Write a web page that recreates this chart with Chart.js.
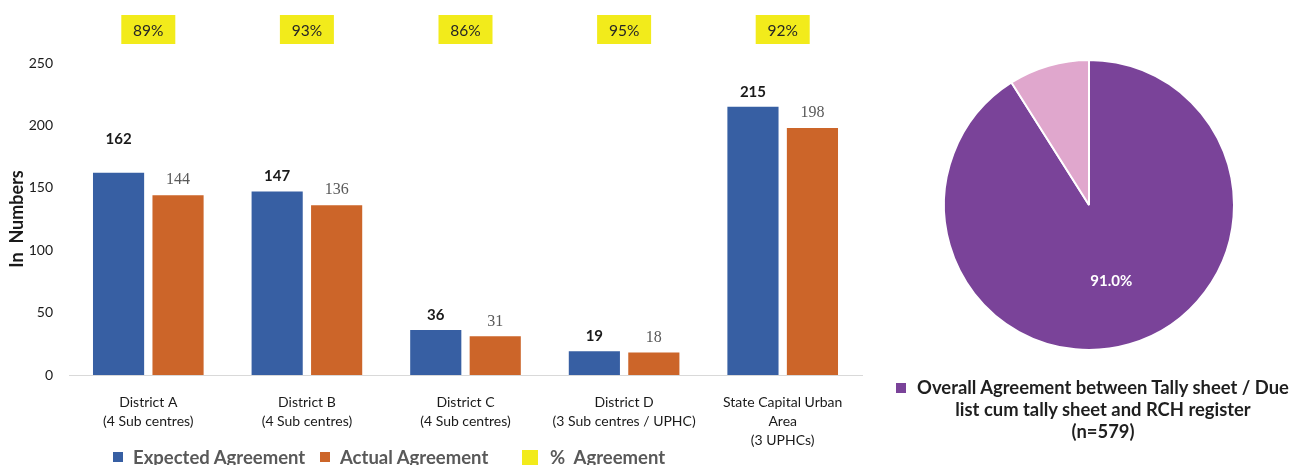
<!DOCTYPE html>
<html>
<head>
<meta charset="utf-8">
<script src="https://cdn.jsdelivr.net/npm/chart.js@4.4.0/dist/chart.umd.min.js"></script>
<style>
  html,body{margin:0;padding:0;background:#fff;overflow:hidden;}
  body{width:1289px;height:465px;position:relative;font-family:Lato,"Noto Sans",sans-serif;}
  #bar{position:absolute;left:0;top:0;}
  #pie{position:absolute;left:870px;top:0;}
  .leg{position:absolute;top:446px;font-weight:bold;font-size:18.5px;line-height:22px;color:#595959;white-space:pre;}
  .leg i{position:absolute;left:0;top:6px;width:10px;height:10px;}
  .leg span{padding-left:20px;}
  .leg.wide i{width:16px;height:16px;top:4px;}
  .leg.wide span{padding-left:28px;}
  #pieLegend{position:absolute;left:817px;top:376px;width:572px;text-align:center;font-weight:bold;font-size:18.4px;line-height:22px;color:#1f1f1f;white-space:nowrap;}
  #pieLegend i{position:absolute;left:79px;top:7px;width:10px;height:10px;}
</style>
</head>
<body>
<canvas id="bar" width="870" height="465"></canvas>
<canvas id="pie" width="419" height="465"></canvas>
<div id="barLegend"></div>
<div id="pieLegend"></div>
<script>
/* bar chart data */
const categories = [
  ['District A', '(4 Sub centres)'],
  ['District B', '(4 Sub centres)'],
  ['District C', '(4 Sub centres)'],
  ['District D', '(3 Sub centres / UPHC)'],
  ['State Capital Urban', 'Area', '(3 UPHCs)']
];
const expectedAgreement = [162, 147, 36, 19, 215];
const actualAgreement = [144, 136, 31, 18, 198];
const agreementPct = [89, 93, 86, 95, 92];
const yMax = 250;
const yStep = 50;

/* pie data: records in agreement vs not */
const pieLegendLines = ['Overall Agreement between Tally sheet / Due', 'list cum tally sheet and RCH register', '(n=579)'];
const pieValues = [527, 52];

const BLUE = '#375fa3', ORANGE = '#cc6529', YELLOW = '#f2eb1b';
const PURPLE = '#7a4399', PINK = '#e0a7cd';

Chart.defaults.font.family = 'Lato';

const barLabels = {
  id: 'barLabels',
  afterDatasetsDraw(chart) {
    const ctx = chart.ctx;
    ctx.save();
    ctx.textAlign = 'center';
    ctx.textBaseline = 'middle';
    ctx.font = 'bold 15px Lato';
    ctx.fillStyle = '#1a1a1a';
    chart.getDatasetMeta(0).data.forEach((bar, i) => {
      // first district's number sits higher over its bar
      const lift = i === 0 ? 34 : 15;
      ctx.fillText(expectedAgreement[i], bar.x, bar.y - lift);
    });
    ctx.font = '16px "Liberation Serif"';
    ctx.fillStyle = '#595959';
    chart.getDatasetMeta(1).data.forEach((bar, i) => {
      ctx.fillText(actualAgreement[i], bar.x, bar.y - 15);
    });
    // % agreement badges across the top
    const xs = chart.scales.x;
    const cy = chart.chartArea.top - 33.5;
    ctx.font = '15.5px Lato';
    agreementPct.forEach((p, i) => {
      const cx = xs.getPixelForValue(i);
      ctx.fillStyle = YELLOW;
      ctx.fillRect(cx - 27, cy - 14.5, 54, 29);
      ctx.fillStyle = '#262626';
      ctx.fillText(p + '%', cx, cy + 1);
    });
    ctx.restore();
  }
};

new Chart(document.getElementById('bar'), {
  type: 'bar',
  data: {
    labels: categories,
    datasets: [
      {label: 'Expected Agreement', data: expectedAgreement, backgroundColor: BLUE,
       categoryPercentage: 0.75, barPercentage: 0.86},
      {label: 'Actual Agreement', data: actualAgreement, backgroundColor: ORANGE,
       categoryPercentage: 0.75, barPercentage: 0.86}
    ]
  },
  options: {
    responsive: false,
    animation: false,
    layout: {padding: {top: 63, right: 8, left: 0, bottom: 0}},
    plugins: {legend: {display: false}, tooltip: {enabled: false}},
    scales: {
      x: {
        grid: {display: false},
        border: {display: true, color: '#d9d9d9', width: 1},
        ticks: {color: '#1a1a1a', font: {size: 14, lineHeight: 1.36}, padding: 10, maxRotation: 0, autoSkip: false},
        afterFit(s) { s.height = 90; }
      },
      y: {
        min: 0, max: yMax,
        grid: {display: false},
        border: {display: false},
        ticks: {stepSize: yStep, color: '#1a1a1a', font: {size: 14}, padding: 8},
        title: {display: true, text: 'In  Numbers', color: '#1a1a1a',
                font: {size: 18, weight: 'bold'}, padding: {top: 6, bottom: 0}},
        afterFit(s) { s.width = 69; }
      }
    }
  },
  plugins: [barLabels]
});

const pieLabel = {
  id: 'pieLabel',
  afterDatasetsDraw(chart) {
    const ctx = chart.ctx;
    const arc = chart.getDatasetMeta(0).data[0];
    const p = arc.getProps(['x', 'y', 'startAngle', 'endAngle', 'outerRadius'], true);
    const mid = (p.startAngle + p.endAngle) / 2;
    const r = p.outerRadius * 0.55;
    const total = pieValues.reduce((a, b) => a + b, 0);
    ctx.save();
    ctx.font = 'bold 15px Lato';
    ctx.fillStyle = '#fff';
    ctx.textAlign = 'center';
    ctx.textBaseline = 'middle';
    ctx.fillText((pieValues[0] / total * 100).toFixed(1) + '%', p.x + Math.cos(mid) * r, p.y + Math.sin(mid) * r);
    ctx.restore();
  }
};

const pieChart = new Chart(document.getElementById('pie'), {
  type: 'pie',
  data: {
    labels: [pieLegendLines.join(' '), 'Not in agreement'],
    datasets: [{data: pieValues, backgroundColor: [PURPLE, PINK], borderColor: '#fff', borderWidth: 2}]
  },
  options: {
    responsive: false,
    animation: false,
    layout: {padding: {left: 73, top: 59, right: 54, bottom: 114}},
    plugins: {legend: {display: false}, tooltip: {enabled: false}}
  },
  plugins: [pieLabel]
});

/* html legends */
const barLegend = document.getElementById('barLegend');
[
  {text: 'Expected Agreement', color: BLUE, left: 113},
  {text: 'Actual Agreement', color: ORANGE, left: 320},
  {text: '%  Agreement', color: YELLOW, left: 522, wide: true}
].forEach(item => {
  const d = document.createElement('div');
  d.className = 'leg' + (item.wide ? ' wide' : '');
  d.style.left = item.left + 'px';
  d.innerHTML = '<i style="background:' + item.color + '"></i><span></span>';
  d.querySelector('span').textContent = item.text;
  barLegend.appendChild(d);
});

const pieLegend = document.getElementById('pieLegend');
pieLegend.innerHTML = '<i style="background:' + PURPLE + '"></i>';
pieLegendLines.forEach(line => {
  const d = document.createElement('div');
  d.textContent = line;
  pieLegend.appendChild(d);
});
</script>
</body>
</html>
